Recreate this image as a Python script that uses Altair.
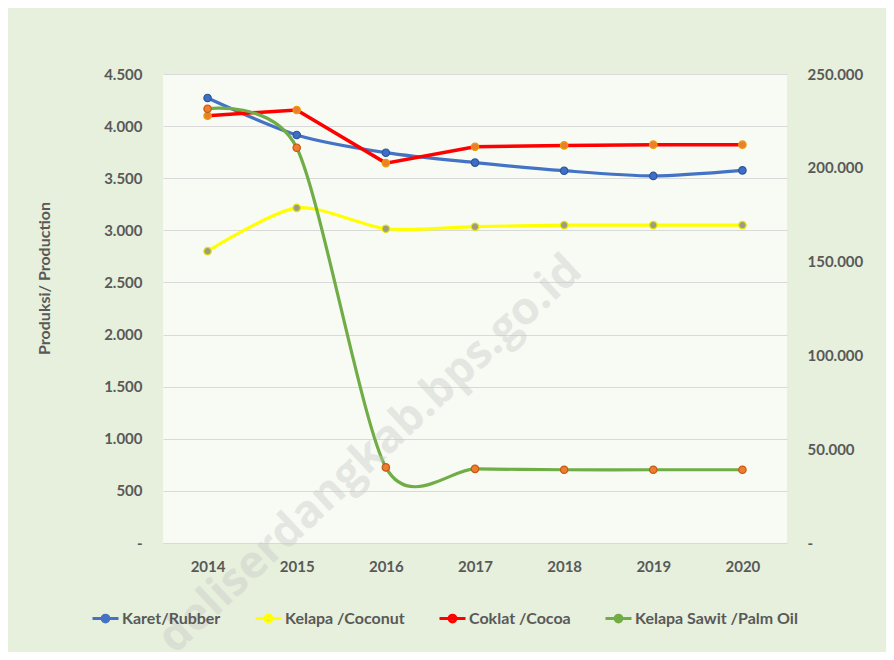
import altair as alt
import pandas as pd

years = ["2014", "2015", "2016", "2017", "2018", "2019", "2020"]
karet = [4270, 3915, 3745, 3650, 3572, 3522, 3575]
kelapa = [2800, 3215, 3015, 3035, 3050, 3050, 3050]
coklat = [4100, 4155, 3645, 3802, 3815, 3822, 3822]
sawit = [231500, 210700, 40300, 39500, 39050, 39050, 39050]

series = ["Karet/Rubber", "Kelapa /Coconut", "Coklat /Cocoa", "Kelapa Sawit /Palm Oil"]
line_colors = ["#4472C4", "#FFFF00", "#FF0000", "#70AD47"]
marker_fill = ["#3E6FC8", "#9C9C86", "#ED7D31", "#ED7D31"]
marker_stroke = ["#2F5597", "#E6E600", "#E8A000", "#C55A11"]

left_ticks = [0, 500, 1000, 1500, 2000, 2500, 3000, 3500, 4000, 4500]
right_ticks = [0, 50000, 100000, 150000, 200000, 250000]

rows = []
for name, vals in [(series[0], karet), (series[1], kelapa), (series[2], coklat), (series[3], sawit)]:
    for yr, v in zip(years, vals):
        rows.append({"year": yr, "series": name, "value": v})
df = pd.DataFrame(rows)

FONT = "Lato"
GRAY = "#595959"

label_expr = "datum.value == 0 ? '-' : replace(format(datum.value, ','), ',', '.')"

color = alt.Color("series:N", scale=alt.Scale(domain=series, range=line_colors),
                  legend=alt.Legend(
                      title=None, orient="none", direction="horizontal",
                      legendX=-72, legendY=530,
                      symbolType="M-1,0L1,0M-0.26,0A0.26,0.26,0,1,1,0.26,0A0.26,0.26,0,1,1,-0.26,0Z",
                      symbolSize=676, symbolStrokeWidth=3, symbolFillColor="#ED7D31",
                      labelFont=FONT, labelFontSize=16, labelFontWeight="bold", labelColor=GRAY,
                      labelOffset=2, columnPadding=28, labelLimit=300,
                  ))
fill = alt.Fill("series:N", scale=alt.Scale(domain=series, range=marker_fill), legend=None)
stroke = alt.Stroke("series:N", scale=alt.Scale(domain=series, range=marker_stroke), legend=None)

x = alt.X("year:O", sort=years, title=None,
          axis=alt.Axis(labelAngle=0, ticks=False, domain=False, grid=False,
                        labelFont=FONT, labelFontSize=15, labelFontWeight="bold",
                        labelColor=GRAY, labelPadding=16))

y_left = alt.Y("value:Q", scale=alt.Scale(domain=[0, 4500], nice=False),
               axis=alt.Axis(orient="left", values=left_ticks, labelExpr=label_expr,
                             title="Produksi/ Production", titleFont=FONT, titleFontSize=16,
                             titleFontWeight="bold", titleColor=GRAY, titleAngle=270,
                             titleX=-119, titleY=204, titleAlign="center", titleBaseline="middle",
                             ticks=False, domain=False, grid=True, gridColor="#d9d9d9",
                             labelFont=FONT, labelFontSize=15, labelFontWeight="bold",
                             labelColor=GRAY, labelPadding=21))
y_right = alt.Y("value:Q", scale=alt.Scale(domain=[0, 250000], nice=False),
                axis=alt.Axis(orient="right", values=right_ticks, labelExpr=label_expr,
                              title=None, ticks=False, domain=False, grid=False,
                              labelFont=FONT, labelFontSize=15, labelFontWeight="bold",
                              labelColor=GRAY, labelPadding=20))

left_series = series[:3]
base_left = alt.Chart(df).transform_filter(alt.FieldOneOfPredicate(field="series", oneOf=left_series))
smooth_left = base_left.transform_filter(
    alt.FieldOneOfPredicate(field="series", oneOf=[series[0], series[1]])
).mark_line(interpolate="cardinal", tension=0.2, strokeWidth=3.2).encode(x=x, y=y_left, color=color)
straight_left = base_left.transform_filter(
    alt.FieldEqualPredicate(field="series", equal=series[2])
).mark_line(strokeWidth=3.5).encode(x=x, y=y_left, color=color)
points_left = base_left.mark_point(filled=True, size=55, strokeWidth=1.2, opacity=1).encode(
    x=x, y=y_left, fill=fill, stroke=stroke)
left = alt.layer(smooth_left, straight_left, points_left)

base_right = alt.Chart(df).transform_filter(alt.FieldEqualPredicate(field="series", equal=series[3]))
line_right = base_right.mark_line(interpolate="cardinal", tension=0.2, strokeWidth=3.2).encode(
    x=x, y=y_right, color=color)
points_right = base_right.mark_point(filled=True, size=55, strokeWidth=1.2, opacity=1).encode(
    x=x, y=y_right, fill=fill, stroke=stroke)
right = alt.layer(line_right, points_right)

watermark_text = ["deliserdangkab.bps.go.id"]
wm = alt.Chart(pd.DataFrame({"t": watermark_text})).mark_text(
    angle=317, fontSize=45, font="Open Sans", fontWeight="bold",
    color="#c8c8c8", opacity=0.4, align="center", baseline="middle"
).encode(text="t:N", x=alt.value(207), y=alt.value(380))

chart = alt.layer(left, right, wm).resolve_scale(y="independent").properties(
    width=624, height=469,
    autosize=alt.AutoSizeParams(type="none"),
    padding={"left": 155, "top": 66, "right": 99, "bottom": 109},
    background="#e6f0dc",
).configure_view(fill="#f8fbf4", stroke=None)

chart.save("out.html", embed_options={"renderer": "svg", "actions": False})
